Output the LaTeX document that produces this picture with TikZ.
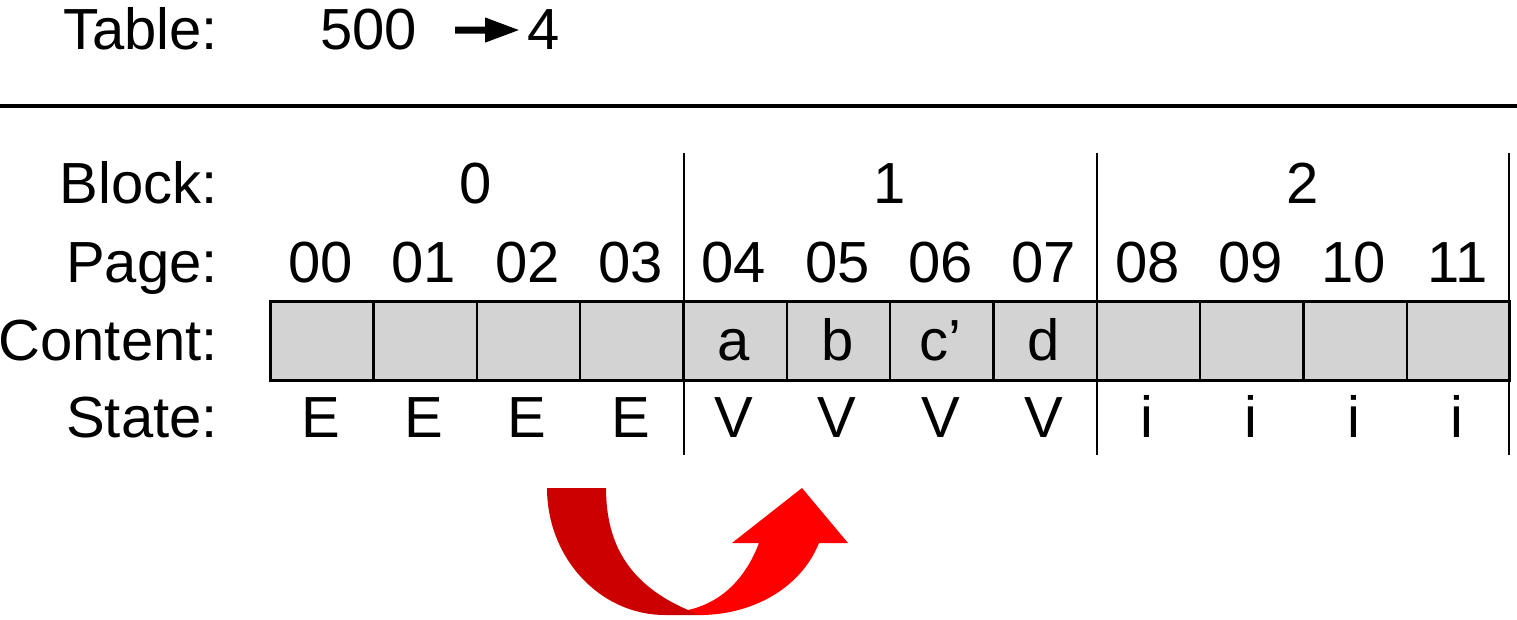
\documentclass[tikz,border=0pt]{standalone}
\usepackage{fontspec}
\setmainfont{Liberation Sans}
\usetikzlibrary{arrows.meta}
\definecolor{cellgray}{RGB}{211,211,211}
\definecolor{darkred}{RGB}{204,0,0}
\definecolor{brightred}{RGB}{255,0,0}
\begin{document}
\begin{tikzpicture}[x=1pt,y=-1pt,
  txt/.style={inner sep=0pt, anchor=base, font=\fontsize{58}{62}\selectfont},
  lbl/.style={txt, anchor=base east},
  cell/.style={draw=black, line width=2.5pt, fill=cellgray, minimum width=103.33pt, minimum height=79pt, inner sep=0pt, anchor=north west},
  sepline/.style={line width=2.7pt},
  rule/.style={line width=3.5pt},
  tablearrow/.style={line width=7pt, -{Triangle[length=35pt,width=23pt]}}]
\useasboundingbox (0,0) rectangle (1517,620);

% top table
\node[lbl] (tlab) at (218,50) {Table:};
\node[txt, anchor=base west] (t500) at (320,50) {500};
\node[txt, anchor=base west] (t4) at (527,50) {4};
\draw[tablearrow, shorten <=38pt, shorten >=7pt] (t500.east) -- (t4.west);

% rule
\coordinate (ruleL) at (0,106);
\coordinate (ruleR) at (1517,106);
\draw[rule] (ruleL) -- (ruleR);

% row labels
\node[lbl] (lblock) at (218,204) {Block:};
\node[lbl] (lpage) at (218,282) {Page:};
\node[lbl] (lcont) at (218,360) {Content:};
\node[lbl] (lstate) at (218,437) {State:};

% cells, pages, states
\foreach \pg/\st [count=\i from 0] in {00/E,01/E,02/E,03/E,04/V,05/V,06/V,07/V,08/i,09/i,10/i,11/i} {
  \node[cell] (c\i) at ({269+\i*103.33},300) {};
  \node[txt] (p\i) at ({269+(\i+0.5)*103.33},282) {\pg};
  \node[txt] (s\i) at ({269+(\i+0.5)*103.33},437) {\st};
}

% contents
\foreach \i/\ct in {4/a,5/b,6/c’,7/d} {
  \node[txt] (k\i) at ({269+(\i+0.5)*103.33},360) {\ct};
}

% block numbers
\node[txt] (b0) at (476,204) {0};
\node[txt] (b1) at (890,204) {1};
\node[txt] (b2) at (1303,204) {2};

% block separators
\foreach \n/\x in {1/684,2/1097,3/1509} {
  \coordinate (sep\n t) at (\x,153);
  \coordinate (sep\n b) at (\x,455);
  \draw[sepline] (sep\n t) -- (sep\n b);
}

% red curved arrow
\fill[darkred] (547,488) -- (606,488) .. controls (606,545) and (630,585) .. (688,610)
  -- (704,615) -- (665,615) .. controls (600,615) and (547,558) .. (547,488) -- cycle;
\fill[brightred] (688,610) .. controls (720,603) and (745,580) .. (759,543)
  -- (732,543) -- (802,488) -- (848,543) -- (819,543)
  .. controls (800,590) and (750,615) .. (700,615) -- cycle;
\end{tikzpicture}
\end{document}
